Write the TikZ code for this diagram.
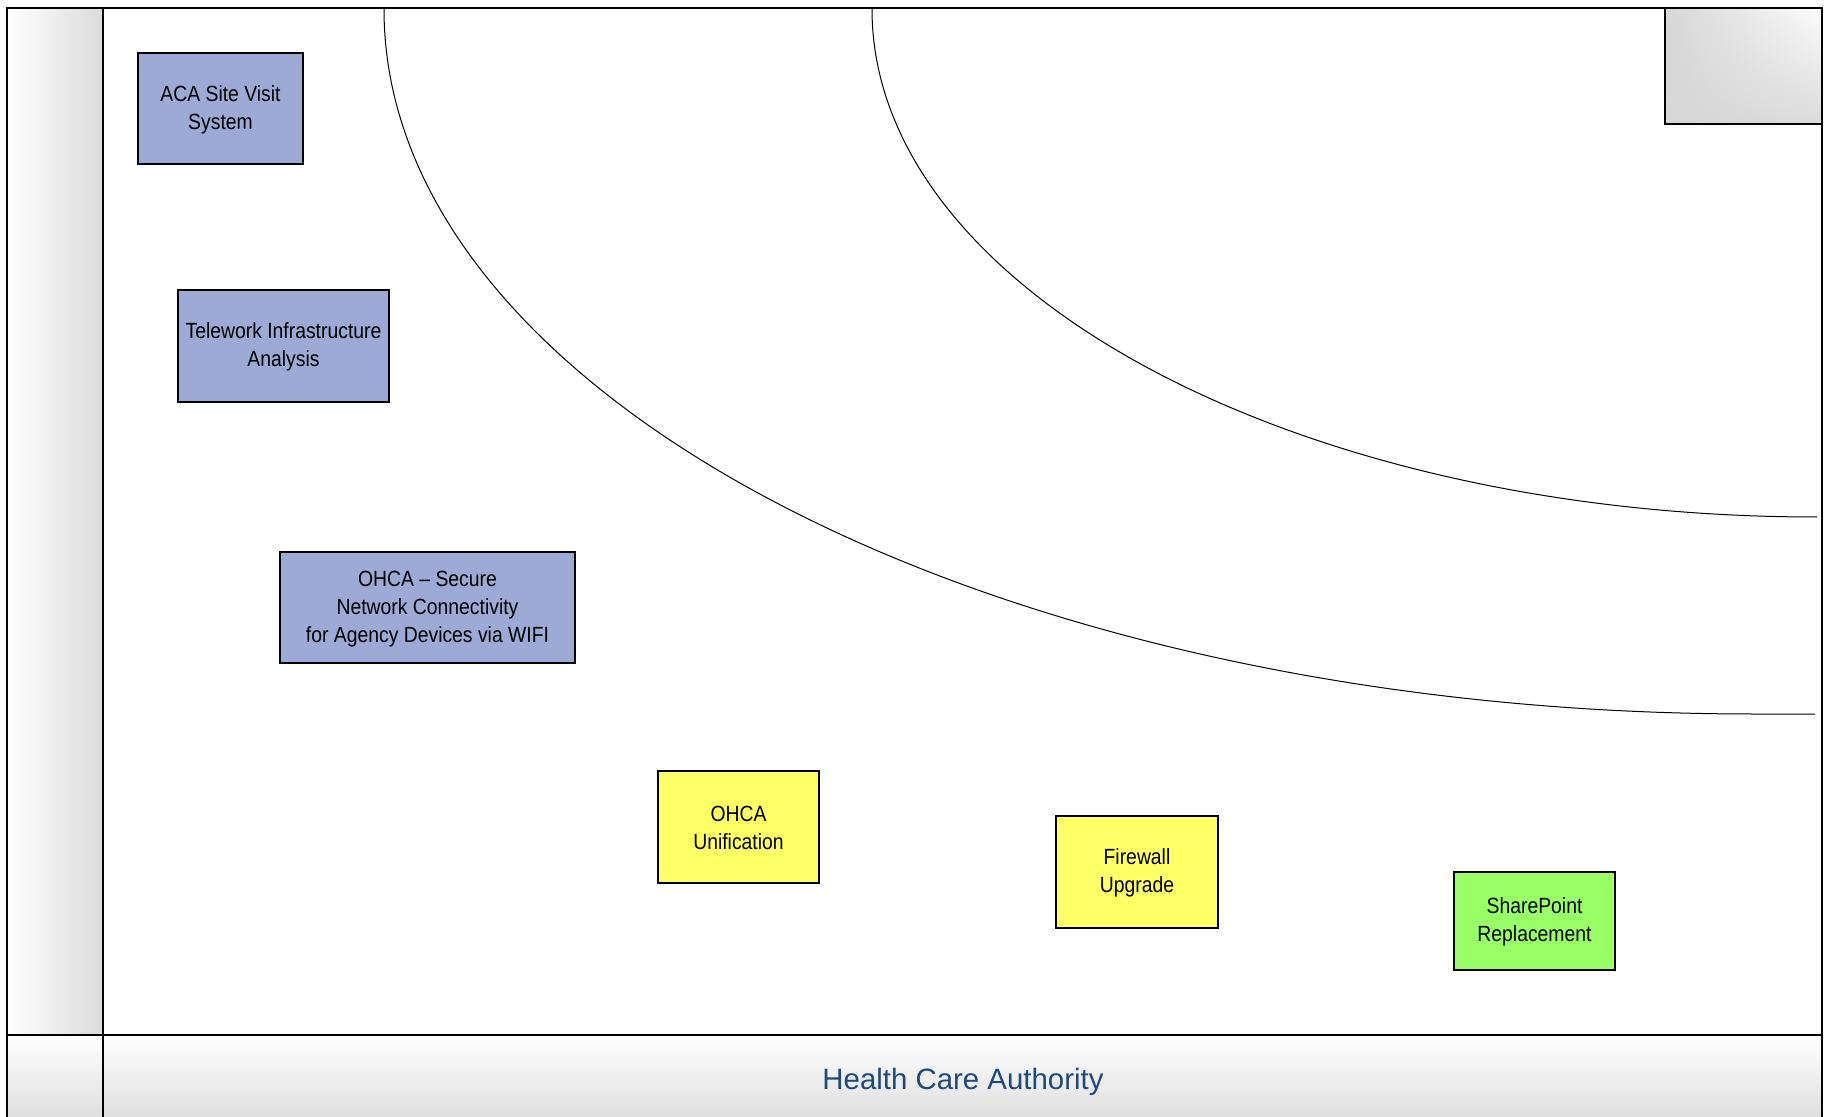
\documentclass[tikz,border=0pt]{standalone}
\usepackage{fontspec}
\usetikzlibrary{shadings}
\setmainfont{Liberation Sans}
\newfontfamily\narrowfont{Liberation Sans}[FakeStretch=0.88,Ligatures=TeX]
\definecolor{boxblue}{HTML}{9EAAD6}
\definecolor{boxyellow}{HTML}{FFFF66}
\definecolor{boxgreen}{HTML}{99FF66}
\definecolor{titleblue}{HTML}{1F497D}
\begin{document}
\begin{tikzpicture}[x=0.5pt,y=-0.5pt,
  itembox/.style={draw=black, line width=1pt, inner sep=0pt, align=center,
    font=\narrowfont\fontsize{11}{14}\selectfont},
  frameline/.style={draw=black, line width=1pt},
  curveline/.style={draw=black, line width=0.5pt}]
\useasboundingbox (0,0) rectangle (1826,1117);
\fill[white] (0,0) rectangle (1826,1117);
% shaded bands
\shade[left color=white, right color=gray!28] (7,8) rectangle (103,1035);
\shade[top color=white, bottom color=gray!25] (7,1035) rectangle (103,1117);
\shade[top color=white, bottom color=gray!25] (103,1035) rectangle (1822,1117);
\shade[upper left=gray!32, upper right=gray!3, lower left=gray!32, lower right=gray!28] (1665,9) rectangle (1822,124);
% frame
\draw[frameline] (7,1117) -- (7,8) -- (1822,8) -- (1822,1117);
\draw[frameline] (103,8) -- (103,1117);
\draw[frameline] (7,1035) -- (1822,1035);
\draw[frameline] (1665,8) -- (1665,124) -- (1822,124);
% curves (quarter ellipses)
\coordinate (c1a) at (384,9);
\coordinate (c1b) at (1754,714);
\coordinate (c1c) at (1815,714);
\draw[curveline] (c1a) .. controls (384,398) and (997,714) .. (c1b) -- (c1c);
\coordinate (c2a) at (872,9);
\coordinate (c2b) at (1817,517);
\draw[curveline] (c2a) .. controls (872,290) and (1295,517) .. (c2b);
% boxes
\node[itembox, fill=boxblue, minimum width=82.5pt, minimum height=55.5pt] (aca) at (220.5,108.5) {\rule{0pt}{9pt}ACA Site Visit\\System};
\node[itembox, fill=boxblue, minimum width=105.5pt, minimum height=56pt] (tele) at (283.5,346) {\rule{0pt}{9pt}Telework Infrastructure\\Analysis};
\node[itembox, fill=boxblue, minimum width=147.5pt, minimum height=55.5pt] (sec) at (427.5,607.5) {\rule{0pt}{9pt}OHCA – Secure\\Network Connectivity\\for Agency Devices via WIFI};
\node[itembox, fill=boxyellow, minimum width=80.5pt, minimum height=56pt] (unif) at (738.5,827) {\rule{0pt}{9pt}OHCA\\Unification};
\node[itembox, fill=boxyellow, minimum width=81pt, minimum height=56pt] (fw) at (1137,872) {\rule{0pt}{9pt}Firewall\\Upgrade};
\node[itembox, fill=boxgreen, minimum width=80.5pt, minimum height=49pt] (sp) at (1534.5,921) {\rule{0pt}{9pt}SharePoint\\Replacement};
% title
\node[anchor=base, text=titleblue, font=\fontsize{14.7}{18}\selectfont, inner sep=0pt] (hca) at (963,1089) {Health Care Authority};
\end{tikzpicture}
\end{document}
